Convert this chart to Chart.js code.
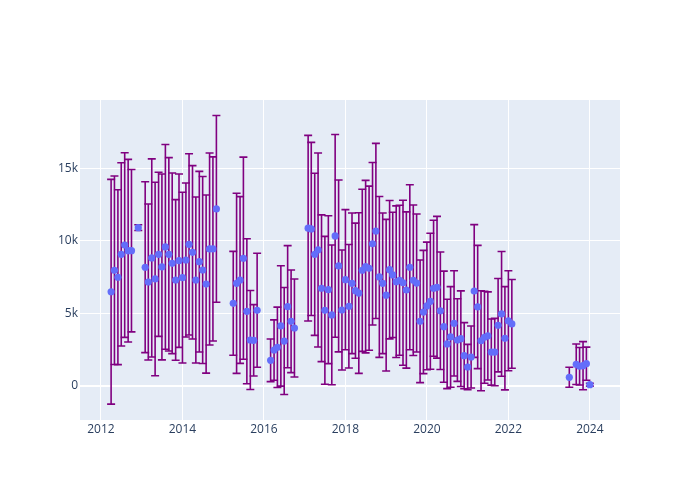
<!DOCTYPE html>
<html>
<head>
<meta charset="utf-8">
<script src="https://cdn.jsdelivr.net/npm/chart.js@4.4.1/dist/chart.umd.min.js"></script>
<style>
  body { margin: 0; background: #fff; }
  #chart { display: block; }
</style>
</head>
<body>
<canvas id="chart" width="700" height="500"></canvas>
<script>
// --- DATOS ---
const months = [
  '2012-04','2012-05','2012-06','2012-07','2012-08','2012-09','2012-10','2012-12',
  '2013-02','2013-03','2013-04','2013-05','2013-06','2013-07','2013-08','2013-09','2013-10','2013-11','2013-12',
  '2014-01','2014-02','2014-03','2014-04','2014-05','2014-06','2014-07','2014-08','2014-09','2014-10','2014-11',
  '2015-04','2015-05','2015-06','2015-07','2015-08','2015-09','2015-10','2015-11',
  '2016-03','2016-04','2016-05','2016-06','2016-07','2016-08','2016-09','2016-10',
  '2017-02','2017-03','2017-04','2017-05','2017-06','2017-07','2017-08','2017-09','2017-10','2017-11','2017-12',
  '2018-01','2018-02','2018-03','2018-04','2018-05','2018-06','2018-07','2018-08','2018-09','2018-10','2018-11','2018-12',
  '2019-01','2019-02','2019-03','2019-04','2019-05','2019-06','2019-07','2019-08','2019-09','2019-10','2019-11','2019-12',
  '2020-01','2020-02','2020-03','2020-04','2020-05','2020-06','2020-07','2020-08','2020-09','2020-10','2020-11','2020-12',
  '2021-01','2021-02','2021-03','2021-04','2021-05','2021-06','2021-07','2021-08','2021-09','2021-10','2021-11','2021-12',
  '2022-01','2022-02',
  '2023-07','2023-09','2023-10','2023-11','2023-12','2024-01'
];
const values = [
  6480, 7960, 7480, 9060, 9700, 9310, 9310, 10900,
  8170, 7150, 8810, 7360, 9060, 8190, 9570, 9060, 8440, 7290, 8620,
  7450, 8670, 9750, 9200, 7290, 8550, 7980, 7010, 9430, 9430, 12190,
  5680, 7060, 7290, 8790, 5130, 3150, 3130, 5200,
  1750, 2460, 2650, 4120, 3080, 5450, 4440, 3980,
  10860, 10810, 9060, 9360, 6720, 5200, 6620, 4880, 10330, 8260, 5220,
  7310, 5480, 7060, 6550, 6390, 7960, 8210, 8100, 9790, 10670, 7500, 7060,
  6240, 8000, 7640, 7170, 7270, 7100, 6600, 8170, 7270, 7080, 4440, 5080,
  5500, 5820, 6720, 6790, 5170, 4070, 2880, 3360, 4300, 3150, 3240, 2070,
  1290, 1980, 6530, 5430, 3100, 3340, 3430, 2320, 2320, 4170, 4950, 3270,
  4480, 4260,
  580, 1480, 1340, 1380, 1520, 70
];
const errors = [
  7750, 6500, 6030, 6320, 6370, 6300, 5600, 200,
  5890, 5380, 6830, 6670, 5660, 6410, 7060, 6670, 6230, 5540, 5980,
  5890, 5310, 6250, 5980, 5720, 6230, 6450, 6140, 6620, 6350, 6440,
  3580, 6210, 5750, 6970, 5000, 3410, 2460, 3930,
  1470, 2080, 2770, 4150, 3690, 4210, 3540, 3380,
  6400, 5970, 5590, 6690, 5060, 5100, 5100, 4820, 6990, 5930, 4140,
  4830, 4260, 4850, 4660, 5540, 5590, 5950, 5660, 5600, 6040, 5550, 4850,
  5230, 4770, 4320, 5230, 5170, 5690, 5390, 5690, 5190, 4760, 4230, 4250,
  4400, 4690, 4690, 4890, 4050, 3830, 3080, 3470, 3630, 2850, 3300, 2280,
  1560, 2140, 4580, 4250, 3450, 3170, 3040, 2280, 2320, 3220, 4300, 3560,
  3450, 3060,
  690, 1400, 1290, 1660, 1140, 100
];
const xTicks = [2012, 2014, 2016, 2018, 2020, 2022, 2024];
const yTicks = [0, 5000, 10000, 15000];
const yTickLabels = ['0', '5k', '10k', '15k'];

// fecha 'YYYY-MM' -> año decimal
function toYear(m) {
  const [yr, mo] = m.split('-').map(Number);
  const start = Date.UTC(yr, 0, 1);
  const end = Date.UTC(yr + 1, 0, 1);
  return yr + (Date.UTC(yr, mo - 1, 1) - start) / (end - start);
}

const FONT = { family: '"Open Sans", verdana, arial, sans-serif', size: 12 };
const TEXT = '#2a3f5f';

// fondo del área de trazado
const plotBg = {
  id: 'plotBg',
  beforeDraw(chart) {
    const { ctx, chartArea: a } = chart;
    ctx.save();
    ctx.fillStyle = '#ffffff';
    ctx.fillRect(0, 0, chart.width, chart.height);
    ctx.fillStyle = '#e5ecf6';
    ctx.fillRect(a.left, a.top, a.right - a.left, a.bottom - a.top);
    ctx.restore();
  }
};

// barras de error simétricas
const errorBars = {
  id: 'errorBars',
  beforeDatasetsDraw(chart) {
    const { ctx, scales: { x, y } } = chart;
    ctx.save();
    ctx.strokeStyle = 'purple';
    ctx.lineWidth = 1.6;
    values.forEach((v, i) => {
      const px = x.getPixelForValue(toYear(months[i]));
      const top = y.getPixelForValue(v + errors[i]);
      const bot = y.getPixelForValue(v - errors[i]);
      ctx.beginPath();
      ctx.moveTo(px, top); ctx.lineTo(px, bot);
      ctx.moveTo(px - 4, top); ctx.lineTo(px + 4, top);
      ctx.moveTo(px - 4, bot); ctx.lineTo(px + 4, bot);
      ctx.stroke();
    });
    ctx.restore();
  }
};

new Chart(document.getElementById('chart'), {
  type: 'scatter',
  data: {
    datasets: [{
      data: months.map((m, i) => ({ x: toYear(m), y: values[i] })),
      backgroundColor: '#636efa',
      borderWidth: 0,
      pointRadius: 3.6,
      pointHoverRadius: 3.6
    }]
  },
  options: {
    responsive: false,
    animation: false,
    events: [],
    layout: { padding: { top: 100, right: 80, bottom: 50, left: 0 } },
    plugins: { legend: { display: false }, tooltip: { enabled: false } },
    scales: {
      x: {
        type: 'linear',
        min: 2011.485,
        max: 2024.74,
        afterBuildTicks: s => { s.ticks = xTicks.map(v => ({ value: v })); },
        afterFit: s => { s.height = 30; },
        ticks: { font: FONT, color: TEXT, padding: 2, callback: v => String(v) },
        grid: { color: '#ffffff', lineWidth: 1, drawTicks: false },
        border: { display: false }
      },
      y: {
        min: -2366,
        max: 19703,
        afterBuildTicks: s => { s.ticks = yTicks.map(v => ({ value: v })); },
        afterFit: s => { s.width = 80; },
        ticks: {
          font: FONT, color: TEXT, padding: 2,
          callback: v => yTickLabels[yTicks.indexOf(v)]
        },
        grid: {
          color: '#ffffff',
          lineWidth: c => (c.tick && c.tick.value === 0 ? 2 : 1),
          drawTicks: false
        },
        border: { display: false }
      }
    }
  },
  plugins: [plotBg, errorBars]
});
</script>
</body>
</html>
